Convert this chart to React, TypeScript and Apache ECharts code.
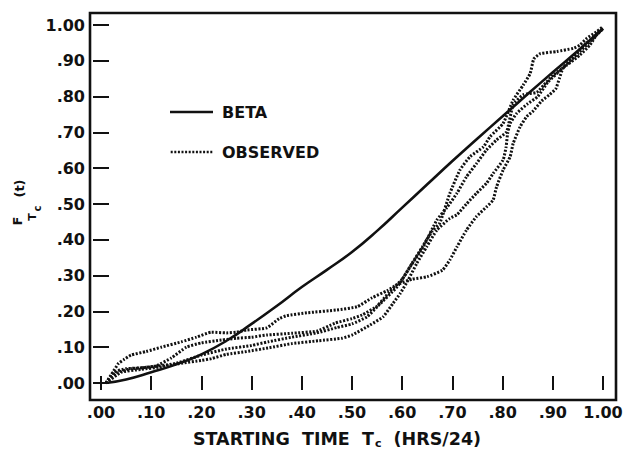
import React, { useEffect, useRef } from "react";
import * as echarts from "echarts";

const X_TICK_LABELS = [".00", ".10", ".20", ".30", ".40", ".50", ".60", ".70", ".80", ".90", "1.00"];
const Y_TICK_LABELS = [".00", ".10", ".20", ".30", ".40", ".50", ".60", ".70", ".80", ".90", "1.00"];

const LEGEND_NAMES = ["BETA", "OBSERVED"];

const BETA: [number, number][] = [
  [0.01, 0.0], [0.05, 0.01], [0.1, 0.03], [0.15, 0.052], [0.2, 0.08], [0.25, 0.118],
  [0.3, 0.165], [0.35, 0.215], [0.4, 0.268], [0.45, 0.316], [0.5, 0.366], [0.55, 0.425],
  [0.6, 0.49], [0.65, 0.555], [0.7, 0.62], [0.75, 0.683], [0.8, 0.745], [0.85, 0.807],
  [0.9, 0.868], [0.95, 0.928], [1.0, 0.99],
];

const OBS_A: [number, number][] = [
  [0.01, 0.0], [0.02, 0.022], [0.035, 0.055], [0.045, 0.065], [0.06, 0.078], [0.09, 0.088],
  [0.12, 0.1], [0.16, 0.115], [0.19, 0.128], [0.22, 0.142], [0.25, 0.14], [0.27, 0.142],
  [0.29, 0.148], [0.33, 0.154], [0.355, 0.18], [0.37, 0.188], [0.41, 0.196], [0.47, 0.204],
  [0.51, 0.213], [0.54, 0.238], [0.57, 0.258], [0.59, 0.275], [0.62, 0.29], [0.65, 0.297],
  [0.68, 0.315], [0.695, 0.344], [0.709, 0.38], [0.728, 0.427], [0.748, 0.465], [0.768, 0.492],
  [0.781, 0.511], [0.788, 0.548], [0.801, 0.595], [0.815, 0.632], [0.821, 0.669], [0.835, 0.716],
  [0.848, 0.744], [0.861, 0.76], [0.878, 0.788], [0.894, 0.806], [0.906, 0.822], [0.913, 0.85],
  [0.92, 0.878], [0.94, 0.91], [0.96, 0.94], [0.98, 0.965], [1.0, 0.99],
];

const OBS_B: [number, number][] = [
  [0.01, 0.0], [0.025, 0.03], [0.05, 0.04], [0.08, 0.042], [0.11, 0.048], [0.14, 0.07],
  [0.17, 0.1], [0.2, 0.112], [0.24, 0.12], [0.27, 0.125], [0.3, 0.128], [0.33, 0.134],
  [0.38, 0.139], [0.43, 0.145], [0.466, 0.167], [0.5, 0.18], [0.52, 0.19], [0.55, 0.215],
  [0.575, 0.255], [0.6, 0.29], [0.62, 0.335], [0.64, 0.38], [0.66, 0.425], [0.675, 0.447],
  [0.695, 0.53], [0.715, 0.595], [0.735, 0.632], [0.762, 0.66], [0.775, 0.688], [0.801, 0.725],
  [0.821, 0.79], [0.841, 0.832], [0.855, 0.865], [0.862, 0.905], [0.875, 0.92], [0.908, 0.926],
  [0.941, 0.935], [0.954, 0.944], [0.968, 0.963], [0.987, 0.981], [1.0, 0.995],
];

const OBS_C: [number, number][] = [
  [0.01, 0.0], [0.03, 0.028], [0.06, 0.04], [0.1, 0.045], [0.15, 0.055], [0.2, 0.078],
  [0.25, 0.095], [0.3, 0.105], [0.333, 0.115], [0.38, 0.128], [0.43, 0.14], [0.47, 0.155],
  [0.5, 0.165], [0.53, 0.185], [0.55, 0.213], [0.59, 0.269], [0.616, 0.325], [0.642, 0.381],
  [0.669, 0.455], [0.689, 0.49], [0.709, 0.53], [0.728, 0.576], [0.748, 0.613], [0.768, 0.651],
  [0.788, 0.679], [0.808, 0.702], [0.821, 0.777], [0.841, 0.805], [0.868, 0.812], [0.882, 0.832],
  [0.901, 0.86], [0.928, 0.888], [0.954, 0.916], [0.974, 0.944], [0.987, 0.972], [1.0, 0.99],
];

const OBS_D: [number, number][] = [
  [0.01, 0.0], [0.04, 0.03], [0.08, 0.038], [0.12, 0.045], [0.16, 0.055], [0.2, 0.063],
  [0.22, 0.068], [0.25, 0.08], [0.29, 0.088], [0.333, 0.098], [0.38, 0.11], [0.433, 0.118],
  [0.48, 0.125], [0.5, 0.134], [0.536, 0.162], [0.562, 0.185], [0.582, 0.223], [0.596, 0.25],
  [0.612, 0.288], [0.629, 0.334], [0.649, 0.381], [0.669, 0.427], [0.695, 0.46], [0.709, 0.47],
  [0.728, 0.5], [0.748, 0.53], [0.768, 0.558], [0.781, 0.585], [0.801, 0.623], [0.807, 0.66],
  [0.81, 0.697], [0.815, 0.725], [0.828, 0.753], [0.85, 0.78], [0.87, 0.8], [0.89, 0.84],
  [0.92, 0.88], [0.95, 0.92], [0.975, 0.955], [1.0, 0.99],
];

const OBSERVED = [OBS_A, OBS_B, OBS_C, OBS_D];

const INK = "#111111";
const FONT = "DejaVu Sans";

function dottedIconPath(len: number, dot: number, gap: number, h: number) {
  let d = "";
  for (let x = 0; x + dot <= len + 0.01; x += dot + gap) {
    d += `M${x.toFixed(2)},0h${dot}v${h}h-${dot}z`;
  }
  return "path://" + d;
}

function vText(text: string, x: number, y: number, size: number) {
  return {
    type: "text", z: 10, x, y, rotation: Math.PI / 2,
    style: {
      text, fontFamily: FONT, fontWeight: "bold", fontSize: size, fill: INK,
      align: "center", verticalAlign: "middle", textAlign: "center", textVerticalAlign: "middle",
    },
  };
}

export default function App() {
  const ref = useRef<HTMLDivElement>(null);

  useEffect(() => {
    if (!ref.current) return;
    const chart = echarts.init(ref.current, undefined, { renderer: "svg" });

    const xFmt = (v: number) => X_TICK_LABELS[Math.round(v * 10)] ?? "";
    const yFmt = (v: number) => Y_TICK_LABELS[Math.round(v * 10)] ?? "";
    const tickStyle = { color: INK, width: 2 };
    const labelStyle = { fontFamily: FONT, fontWeight: "bold" as const, fontSize: 16, color: INK };

    const dotted = {
      color: INK,
      width: 3,
      type: [2, 1.6] as number[],
    };

    chart.setOption({
      animation: false,
      backgroundColor: "#ffffff",
      grid: {
        left: 101, right: 29, top: 25, bottom: 68,
        containLabel: false, outerBoundsMode: "none",
      },
      xAxis: [
        {
          type: "value", min: 0, max: 1, interval: 0.1, position: "bottom", offset: 17,
          axisLine: { show: false },
          axisTick: { show: true, inside: true, length: 7, lineStyle: tickStyle },
          axisLabel: { margin: 4, formatter: xFmt, ...labelStyle },
          splitLine: { show: false },
        },
        {
          type: "value", min: 0, max: 1, interval: 0.1, position: "top", offset: 12,
          axisLine: { show: false },
          axisTick: { show: true, inside: true, length: 7, lineStyle: tickStyle },
          axisLabel: { show: false },
          splitLine: { show: false },
        },
      ],
      yAxis: [
        {
          type: "value", min: 0, max: 1, interval: 0.1, position: "left", offset: 11,
          axisLine: { show: false },
          axisTick: { show: true, inside: true, length: 8, lineStyle: tickStyle },
          axisLabel: { margin: 5, formatter: yFmt, ...labelStyle },
          splitLine: { show: false },
        },
        {
          type: "value", min: 0, max: 1, interval: 0.1, position: "right", offset: 13,
          axisLine: { show: false },
          axisTick: { show: true, inside: true, length: 8, lineStyle: tickStyle },
          axisLabel: { show: false },
          splitLine: { show: false },
        },
      ],
      legend: {
        data: [
          { name: LEGEND_NAMES[0], icon: "path://M0,0h43v2.6h-43z" },
          { name: LEGEND_NAMES[1], icon: dottedIconPath(43, 2, 1.6, 2.6) },
        ],
        orient: "vertical",
        left: 170,
        top: 104,
        padding: 0,
        itemWidth: 43,
        itemHeight: 2.6,
        itemGap: 24,
        itemStyle: { color: INK, borderWidth: 0 },
        textStyle: { ...labelStyle, padding: [0, 0, 0, 4] },
        selectedMode: false,
      },
      series: [
        {
          name: "BETA", type: "line", data: BETA, smooth: true, symbol: "none",
          lineStyle: { color: INK, width: 2.6 }, itemStyle: { color: INK },
          xAxisIndex: 0, yAxisIndex: 0, z: 3,
        },
        ...OBSERVED.map((d) => ({
          name: "OBSERVED", type: "line", data: d, smooth: 0.15, symbol: "none",
          lineStyle: dotted, itemStyle: { color: INK },
          xAxisIndex: 0, yAxisIndex: 0, z: 2,
        })),
      ],
      graphic: [
        {
          type: "rect", silent: true, z: 10,
          shape: { x: 90, y: 13, width: 526, height: 387 },
          style: { fill: "none", stroke: INK, lineWidth: 2.6 },
        },
        {
          type: "text", z: 10,
          style: {
            x: 337, y: 439,
            text: "{m|STARTING  TIME  T}{s|c}{m|  (HRS/24)}",
            align: "center", verticalAlign: "middle",
            textAlign: "center", textVerticalAlign: "middle",
            fill: INK,
            rich: {
              m: { fontFamily: FONT, fontWeight: "bold", fontSize: 17.5, fill: INK, color: INK },
              s: { fontFamily: FONT, fontWeight: "bold", fontSize: 11, fill: INK, color: INK, padding: [9, 0, 0, 1] },
            },
          },
        },
        vText("F", 17, 221, 13),
        vText("T", 32, 217, 11),
        vText("c", 37, 208.5, 10),
        vText("(t)", 19, 188.5, 13),
      ],
    });

    return () => chart.dispose();
  }, []);

  return (
    <div
      ref={ref}
      style={{ position: "fixed", left: 0, top: 0, width: 632, height: 451, background: "#fff" }}
    />
  );
}
